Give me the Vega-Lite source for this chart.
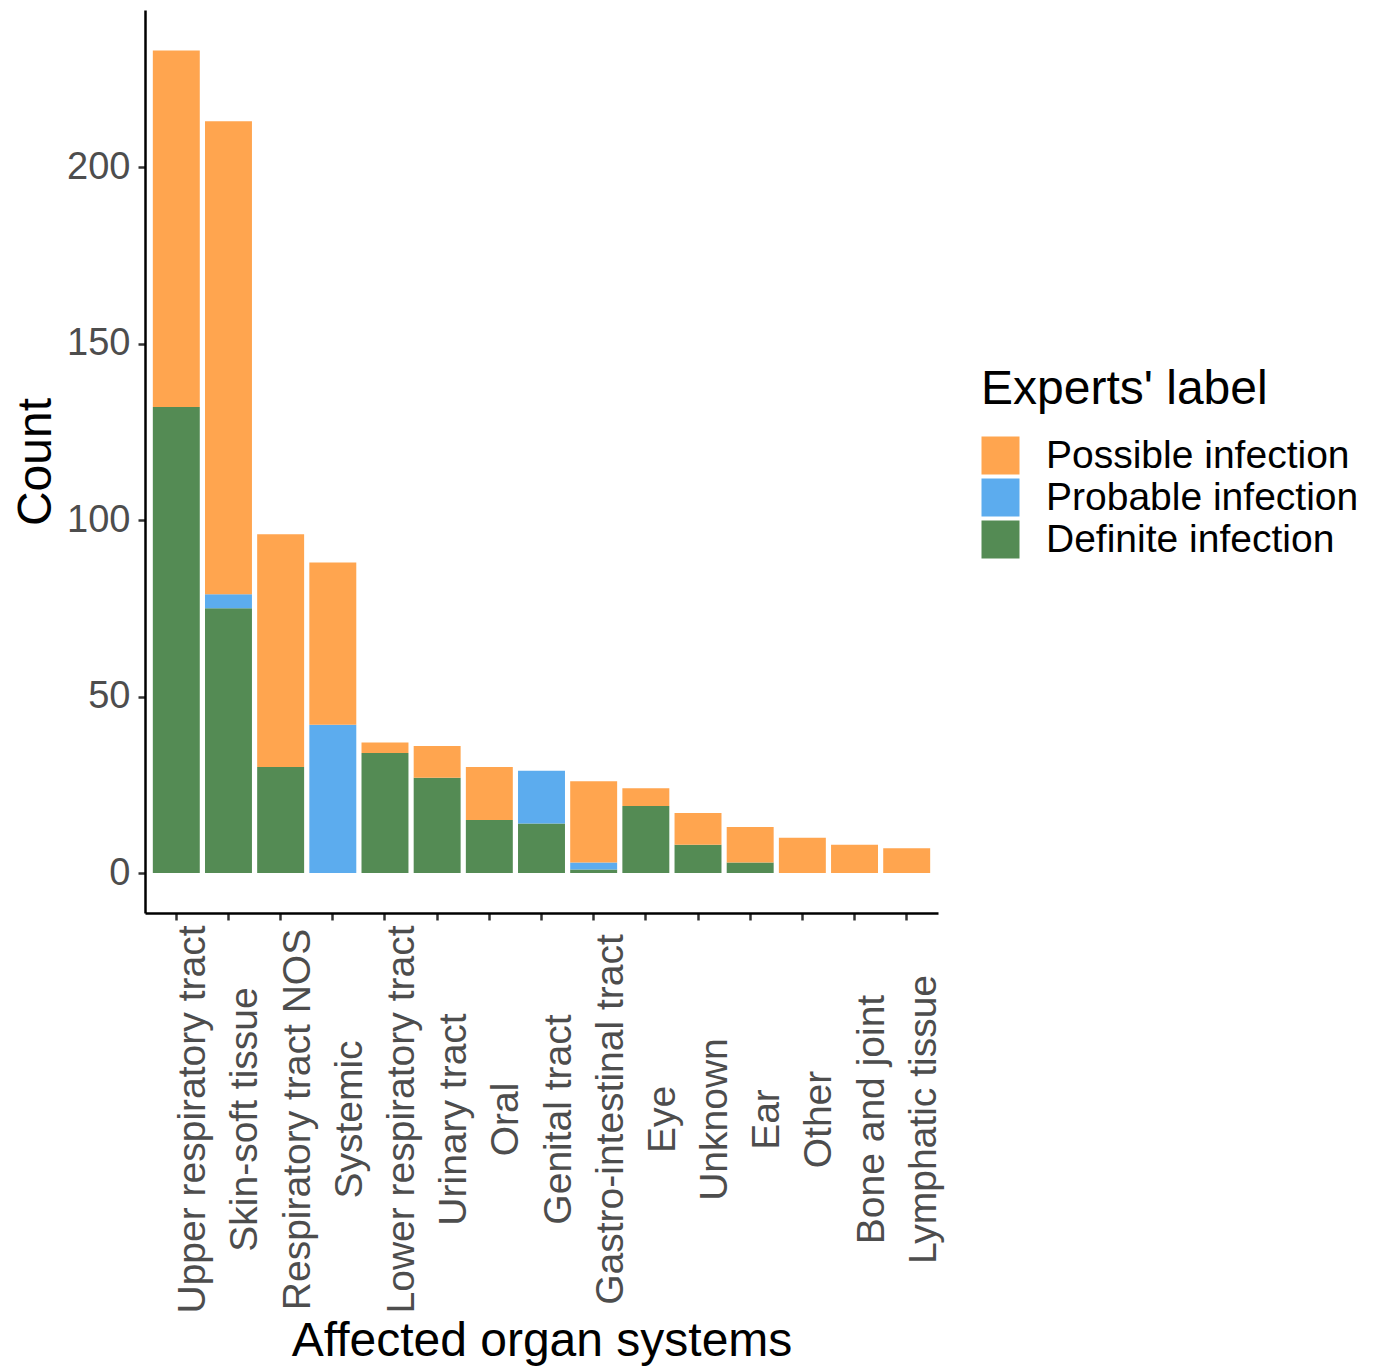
{
  "$schema": "https://vega.github.io/schema/vega-lite/v6.json",
  "autosize": "none",
  "width": 793,
  "height": 903,
  "padding": {"left": 145, "top": 10, "right": 439, "bottom": 454},
  "background": "white",
  "config": {
    "view": {"stroke": null},
    "font": "Liberation Sans",
    "axis": {"grid": false}
  },
  "data": {
    "values": [
      {"organ": "Upper respiratory tract", "label": "Definite infection", "certainty": 3, "count": 132},
      {"organ": "Upper respiratory tract", "label": "Possible infection", "certainty": 1, "count": 101},
      {"organ": "Skin-soft tissue", "label": "Definite infection", "certainty": 3, "count": 75},
      {"organ": "Skin-soft tissue", "label": "Probable infection", "certainty": 2, "count": 4},
      {"organ": "Skin-soft tissue", "label": "Possible infection", "certainty": 1, "count": 134},
      {"organ": "Respiratory tract NOS", "label": "Definite infection", "certainty": 3, "count": 30},
      {"organ": "Respiratory tract NOS", "label": "Possible infection", "certainty": 1, "count": 66},
      {"organ": "Systemic", "label": "Probable infection", "certainty": 2, "count": 42},
      {"organ": "Systemic", "label": "Possible infection", "certainty": 1, "count": 46},
      {"organ": "Lower respiratory tract", "label": "Definite infection", "certainty": 3, "count": 34},
      {"organ": "Lower respiratory tract", "label": "Possible infection", "certainty": 1, "count": 3},
      {"organ": "Urinary tract", "label": "Definite infection", "certainty": 3, "count": 27},
      {"organ": "Urinary tract", "label": "Possible infection", "certainty": 1, "count": 9},
      {"organ": "Oral", "label": "Definite infection", "certainty": 3, "count": 15},
      {"organ": "Oral", "label": "Possible infection", "certainty": 1, "count": 15},
      {"organ": "Genital tract", "label": "Definite infection", "certainty": 3, "count": 14},
      {"organ": "Genital tract", "label": "Probable infection", "certainty": 2, "count": 15},
      {"organ": "Gastro-intestinal tract", "label": "Definite infection", "certainty": 3, "count": 1},
      {"organ": "Gastro-intestinal tract", "label": "Probable infection", "certainty": 2, "count": 2},
      {"organ": "Gastro-intestinal tract", "label": "Possible infection", "certainty": 1, "count": 23},
      {"organ": "Eye", "label": "Definite infection", "certainty": 3, "count": 19},
      {"organ": "Eye", "label": "Possible infection", "certainty": 1, "count": 5},
      {"organ": "Unknown", "label": "Definite infection", "certainty": 3, "count": 8},
      {"organ": "Unknown", "label": "Possible infection", "certainty": 1, "count": 9},
      {"organ": "Ear", "label": "Definite infection", "certainty": 3, "count": 3},
      {"organ": "Ear", "label": "Possible infection", "certainty": 1, "count": 10},
      {"organ": "Other", "label": "Possible infection", "certainty": 1, "count": 10},
      {"organ": "Bone and joint", "label": "Possible infection", "certainty": 1, "count": 8},
      {"organ": "Lymphatic tissue", "label": "Possible infection", "certainty": 1, "count": 7}
    ]
  },
  "mark": {"type": "bar"},
  "encoding": {
    "x": {
      "field": "organ",
      "type": "nominal",
      "sort": ["Upper respiratory tract", "Skin-soft tissue", "Respiratory tract NOS", "Systemic", "Lower respiratory tract", "Urinary tract", "Oral", "Genital tract", "Gastro-intestinal tract", "Eye", "Unknown", "Ear", "Other", "Bone and joint", "Lymphatic tissue"],
      "scale": {"paddingInner": 0.1, "paddingOuter": 0.15},
      "axis": {
        "title": "Affected organ systems",
        "titleFontSize": 48,
        "titleFontWeight": "normal",
        "titleColor": "black",
        "titleBaseline": "alphabetic",
        "titleY": 442,
        "labelAngle": -90,
        "labelAlign": "center",
        "labelBaseline": "top",
        "labelFontSize": 39,
        "labelColor": "#4D4D4D",
        "labelPadding": 199,
        "labelOffset": -2,
        "tickSize": 7,
        "tickWidth": 2.5,
        "tickColor": "#333333",
        "domainColor": "black",
        "domainWidth": 2.5,
        "labelOverlap": false,
        "labelLimit": 0
      }
    },
    "y": {
      "field": "count",
      "type": "quantitative",
      "aggregate": "sum",
      "stack": "zero",
      "scale": {"domain": [-11.33, 244.5], "nice": false, "zero": false},
      "axis": {
        "title": "Count",
        "titleFontSize": 48,
        "titleFontWeight": "normal",
        "titleColor": "black",
        "titlePadding": 6,
        "values": [0, 50, 100, 150, 200],
        "labelFontSize": 38,
        "labelColor": "#4D4D4D",
        "labelPadding": 8,
        "tickSize": 7,
        "tickWidth": 2.5,
        "tickColor": "#333333",
        "domainColor": "black",
        "domainWidth": 2.5
      }
    },
    "color": {
      "field": "label",
      "type": "nominal",
      "scale": {
        "domain": ["Possible infection", "Probable infection", "Definite infection"],
        "range": ["#FFA54F", "#5CACEE", "#548B54"]
      },
      "legend": {
        "title": "Experts' label",
        "orient": "none",
        "legendX": 836,
        "legendY": 356,
        "padding": 0,
        "titleFontSize": 48,
        "titleFontWeight": "normal",
        "titleColor": "black",
        "titlePadding": 22,
        "titleLimit": 0,
        "labelFontSize": 39,
        "labelColor": "black",
        "labelOffset": 26,
        "symbolType": "square",
        "symbolSize": 1444,
        "symbolStrokeWidth": 0,
        "symbolOpacity": 1,
        "rowPadding": 2,
        "labelLimit": 0
      }
    },
    "order": {"field": "certainty", "type": "quantitative", "sort": "descending"}
  }
}
